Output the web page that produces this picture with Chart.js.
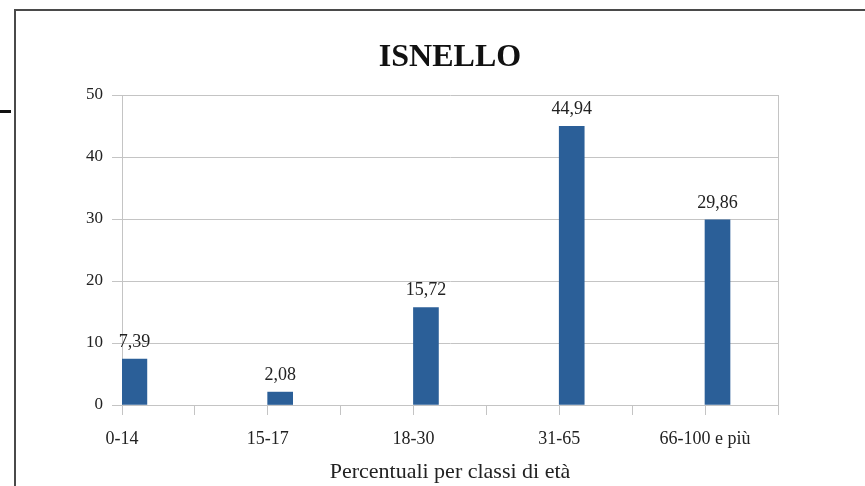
<!DOCTYPE html>
<html lang="it">
<head>
<meta charset="utf-8">
<title>ISNELLO</title>
<script src="https://cdn.jsdelivr.net/npm/chart.js@4/dist/chart.umd.min.js"></script>
<style>
   html, body { margin: 0; padding: 0; background: #fff; }
   #wrap { position: relative; width: 865px; height: 486px; overflow: hidden; }
   #wrap canvas { position: absolute; left: 0; top: 0; }
   .frame-left { position: absolute; left: 14px; top: 9px; width: 2px; height: 477px; background: #4a4a4a; }
   .frame-top { position: absolute; left: 14px; top: 9px; width: 851px; height: 2px; background: #4a4a4a; }
   .dash { position: absolute; left: 0; top: 110px; width: 11px; height: 3px; background: #111; }
</style>
</head>
<body>
<div id="wrap">
   <div class="frame-left"></div>
   <div class="frame-top"></div>
   <div class="dash"></div>
   <canvas id="chart" width="865" height="486"></canvas>
</div>
<script>
/* global Chart */

const categories = ["0-14", "15-17", "18-30", "31-65", "66-100 e più"];
const percentuali = [7.39, 2.08, 15.72, 44.94, 29.86];
const yTicks = [0, 10, 20, 30, 40, 50];

const FONT = "'Liberation Serif', 'Times New Roman', serif";
const GRID = "#c4c4c4";
const BAR = "#2b5f98";

// each class sits on every other tick of a 9-step axis, bar starting at its tick
const X_MAX = categories.length * 2 - 1;
const BAR_SHIFT = 0.17;

const points = percentuali.map((v, i) => ({ x: i * 2 + BAR_SHIFT, y: v }));

const formatIt = (v) =>
   v.toLocaleString("it-IT", { minimumFractionDigits: 2, maximumFractionDigits: 2 });

const valueLabels = {
   id: "valueLabels",
   afterDatasetsDraw(chart) {
      const { ctx } = chart;
      const meta = chart.getDatasetMeta(0);
      ctx.save();
      ctx.font = "18px " + FONT;
      ctx.fillStyle = "#222";
      ctx.textAlign = "center";
      ctx.textBaseline = "middle";
      meta.data.forEach((bar, i) => {
         ctx.fillText(formatIt(percentuali[i]), bar.x, bar.y - 17);
      });
      ctx.restore();
   },
};

new Chart(document.getElementById("chart"), {
   type: "bar",
   data: {
      datasets: [
         {
            label: "ISNELLO",
            data: points,
            backgroundColor: BAR,
            borderWidth: 0,
            barThickness: 25,
         },
      ],
   },
   options: {
      responsive: false,
      animation: false,
      layout: { padding: { left: 0, right: 87, top: 0, bottom: 0 } },
      plugins: {
         legend: { display: false },
         tooltip: { enabled: false },
         title: {
            display: true,
            text: "ISNELLO",
            fullSize: false,
            color: "#111",
            font: { family: FONT, size: 32, weight: "bold" },
            padding: { top: 39, bottom: 17.6 },
         },
      },
      scales: {
         x: {
            type: "linear",
            offset: false,
            min: 0,
            max: X_MAX,
            afterFit: (s) => { s.height = 81; },
            afterBuildTicks: (s) => {
               s.ticks = [];
               for (let v = 0; v <= X_MAX; v++) s.ticks.push({ value: v });
            },
            ticks: {
               autoSkip: false,
               maxRotation: 0,
               padding: 13,
               color: "#222",
               font: { family: FONT, size: 18 },
               callback: (v) => (v % 2 === 0 && v / 2 < categories.length ? categories[v / 2] : ""),
            },
            grid: {
               offset: false,
               drawOnChartArea: true,
               tickLength: 10,
               color: (c) => (c.tick && c.tick.value === X_MAX ? GRID : "rgba(0,0,0,0)"),
               tickColor: GRID,
               lineWidth: 1,
            },
            border: { display: true, color: GRID },
            title: {
               display: true,
               text: "Percentuali per classi di età",
               color: "#222",
               font: { family: FONT, size: 22 },
               padding: { top: 0, bottom: 1 },
            },
         },
         y: {
            min: yTicks[0],
            max: yTicks[yTicks.length - 1],
            afterFit: (s) => { s.width = 122; },
            afterBuildTicks: (s) => {
               s.ticks = yTicks.map((v) => ({ value: v }));
            },
            ticks: {
               padding: 9,
               color: "#222",
               font: { family: FONT, size: 17 },
            },
            grid: { color: GRID, tickLength: 10, lineWidth: 1 },
            border: { display: true, color: GRID },
         },
      },
   },
   plugins: [valueLabels],
});
</script>
</body>
</html>
